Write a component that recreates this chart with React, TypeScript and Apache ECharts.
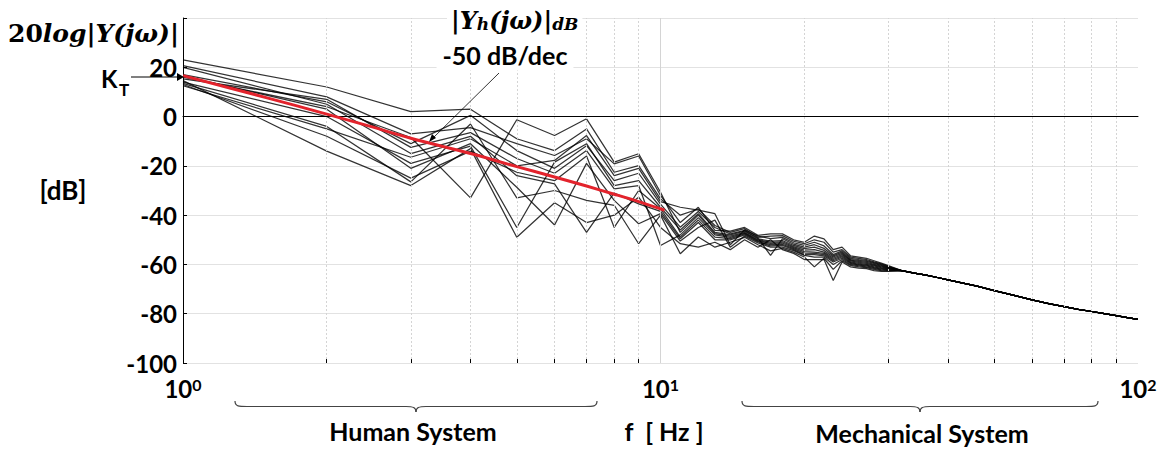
import React, { useEffect, useRef } from "react";
import * as echarts from "echarts";

// Frequencies (Hz) of the individual measured responses
const freqHz = [1, 2, 3, 4, 5, 6, 7, 8, 9, 10, 11, 12, 13, 14, 15, 16, 17, 18, 19, 20, 21, 22, 23, 24, 25, 26, 27, 28, 29, 30];

// |Y(jw)| in dB for each subject, one value per entry of freqHz
const subjectA = [23, 12, 2, 3, -9, -13.8, -5, -22.6, -19.9, -33.4, -40, -37.5, -44.2, -47, -45.5, -49, -48.5, -48.3, -50.6, -51.6, -50, -51, -55, -54, -57, -57.5, -58, -59, -59.8, -60.8];
const subjectB = [20.7, 8, -7, -4.5, -11, -15.8, -9, -19.2, -16, -32, -43, -36.8, -46.2, -46.5, -45, -48.2, -47.6, -47.6, -50, -51, -48.5, -49.6, -54, -53, -56.5, -57, -57.5, -58.5, -59.5, -60.5];
const subjectC = [12.5, -5, -16.5, -9, -20, -17.8, -7.7, -24, -21, -34.5, -36.8, -38, -39.4, -52, -46, -48.5, -49.5, -49, -51.2, -52.3, -51, -52.5, -56, -54.5, -57.5, -58, -58.4, -59.3, -60.1, -61];
const subjectD = [17, 6, -11, 0.5, -13.8, -21, -11.8, -26, -23, -35.5, -44.9, -38.5, -45, -47.6, -46.2, -49.3, -56.3, -49.6, -51.8, -53, -52, -53.5, -56.5, -55, -58, -58.4, -58.8, -59.6, -60.4, -61.2];
const subjectE = [14, 0, -19, -12, -45, -18.5, -11, -28, -26, -36.8, -46, -39.4, -47, -48, -46.5, -49.6, -50.5, -50.3, -52.3, -53.6, -53, -54.3, -57, -55.5, -58.3, -58.8, -59.2, -60, -60.7, -61.4];
const subjectF = [16, 4, -8.5, -33, -1.3, -7.7, -0.9, -18.5, -15.1, -30.7, -47, -40, -47.5, -48.5, -47, -50, -51, -50.8, -52.8, -54.2, -54, -55, -57.5, -56, -58.6, -59.2, -59.6, -60.3, -61, -61.6];
const subjectG = [15.3, 7, -12.5, -6.5, -17, -23, -13.8, -29.3, -28, -52.3, -48, -41, -48, -49, -47.3, -50.3, -51.5, -51.3, -53.2, -54.8, -55, -55.5, -58, -56.5, -59, -59.6, -60, -60.6, -61.3, -61.8];
const subjectH = [13, -8, -25, -14, -22.6, -26, -16, -45, -30, -37.4, -48.9, -42, -48.9, -49.5, -47.6, -50.6, -52, -51.8, -53.6, -55.4, -55.5, -56, -58.5, -57, -59.3, -60, -60.3, -61, -61.6, -62];
const subjectI = [20, 5, -15, -8, -24, -27.3, -47, -31, -35.4, -38.5, -49.6, -43, -50, -50, -48, -50.9, -52.5, -52.3, -54, -56, -56, -56.5, -59, -57.5, -59.6, -60.3, -60.6, -61.3, -61.9, -62.2];
const subjectJ = [16.5, 3, -21, -11, -28.7, -44, -19, -34, -43.5, -39.4, -50.5, -45, -42, -53, -48.5, -51.3, -53, -53, -54.4, -56.3, -57, -57, -60, -58, -60, -60.6, -61, -61.6, -62.2, -62.4];
const subjectK = [13.5, -4, -26.5, -3, -33, -30, -34, -36, -51.6, -40, -55.7, -48.9, -53, -51, -49, -52, -54.5, -53.5, -55, -57, -61, -57.5, -62, -58.5, -60.4, -61, -61.3, -62, -62.5, -62.6];
const subjectL = [14.6, -14, -28, -13, -49, -35, -43, -40, -32.7, -45, -51.6, -53, -51, -54, -50, -53, -50, -54, -55.5, -58, -58, -58, -66.5, -59, -61, -61.5, -61.7, -62.5, -62.8, -62.8];
const subjects = [subjectA, subjectB, subjectC, subjectD, subjectE, subjectF, subjectG, subjectH, subjectI, subjectJ, subjectK, subjectL];

// Common high-frequency (mechanical) part shared by all responses
const tailFreqHz = [32, 34, 36, 38, 40, 43, 46, 50, 55, 60, 65, 70, 75, 80, 85, 90, 95, 100];
const tailDb = [-62.5, -63.5, -64.3, -65.3, -66.3, -67.6, -68.8, -70.6, -72.6, -74.4, -75.9, -77.1, -78.2, -79.1, -80, -80.8, -81.6, -82.3];

// Fitted human model |Y_h(jw)|_dB (red)
const fitFreqHz = [1, 1.5, 2, 2.5, 3, 4, 5, 6, 7, 8, 9, 10.2];
const fitDb = [16.6, 7.6, 1, -4.3, -8.8, -15, -20.3, -24.5, -28.2, -31.5, -34.5, -38];

// Grid / tick frequencies
const minorFreqHz = [2, 3, 4, 5, 6, 7, 8, 9, 20, 30, 40, 50, 60, 70, 80, 90];
const decadeFreqHz = [10];

const FONT = "Lato, 'Open Sans', sans-serif";
const SERIF = "'DejaVu Serif', serif";

function brace(x1: number, x2: number, y0: number, h: number) {
  const xm = (x1 + x2) / 2;
  const ym = y0 + h / 2;
  const st = { stroke: "#444", lineWidth: 1.2, fill: "none" };
  return {
    type: "group",
    children: [
      { type: "bezierCurve", shape: { x1: x1, y1: y0, cpx1: x1, cpy1: ym, cpx2: x1 + 4, cpy2: ym, x2: x1 + 12, y2: ym }, style: st },
      { type: "line", shape: { x1: x1 + 12, y1: ym, x2: xm - 10, y2: ym }, style: st },
      { type: "bezierCurve", shape: { x1: xm - 10, y1: ym, cpx1: xm - 3, cpy1: ym, cpx2: xm, cpy2: ym + 1, x2: xm, y2: y0 + h }, style: st },
      { type: "bezierCurve", shape: { x1: xm + 10, y1: ym, cpx1: xm + 3, cpy1: ym, cpx2: xm, cpy2: ym + 1, x2: xm, y2: y0 + h }, style: st },
      { type: "line", shape: { x1: xm + 10, y1: ym, x2: x2 - 12, y2: ym }, style: st },
      { type: "bezierCurve", shape: { x1: x2, y1: y0, cpx1: x2, cpy1: ym, cpx2: x2 - 4, cpy2: ym, x2: x2 - 12, y2: ym }, style: st },
    ],
  };
}

export default function App() {
  const ref = useRef<HTMLDivElement>(null);
  useEffect(() => {
    document.body.style.margin = "0";
    const chart = echarts.init(ref.current!, null, { renderer: "svg" });

    const curveSeries = subjects.map((vals, k) => ({
      type: "line",
      name: "s" + k,
      data: [...freqHz.map((f, i) => [f, vals[i]]), ...tailFreqHz.map((f, i) => [f, tailDb[i]])],
      symbol: "none",
      silent: true,
      lineStyle: { color: "rgba(0,0,0,0.8)", width: 1.25 },
      z: 3,
    }));

    const gridSeries = {
      type: "line",
      name: "grid",
      data: [],
      silent: true,
      z: 1,
      markLine: {
        silent: true,
        symbol: "none",
        label: { show: false },
        animation: false,
        data: [
          ...minorFreqHz.map((f) => ({ xAxis: f, lineStyle: { color: "#d4d4d4", width: 1, type: [2, 2] } })),
          ...decadeFreqHz.map((f) => ({ xAxis: f, lineStyle: { color: "#d4d4d4", width: 1, type: "solid" } })),
          ...minorFreqHz.map((f) => [
            { coord: [f, -100], lineStyle: { color: "#000", width: 1, type: "solid" } },
            { coord: [f, -98.4] },
          ]),
          { yAxis: 0, lineStyle: { color: "#000", width: 1, type: "solid" } },
        ],
      },
    };

    const fitSeries = {
      type: "line",
      name: "fit",
      data: fitFreqHz.map((f, i) => [f, fitDb[i]]),
      symbol: "none",
      smooth: 0.3,
      silent: true,
      lineStyle: { color: "#e3232c", width: 3 },
      z: 5,
    };

    const option: any = {
      animation: false,
      grid: { left: 183, right: 26, top: 18, bottom: 86, containLabel: false },
      xAxis: {
        type: "log",
        logBase: 10,
        min: 1,
        max: 100,
        axisLine: { show: true, lineStyle: { color: "#000", width: 1 } },
        axisTick: { show: false },
        splitLine: { show: false },
        axisLabel: {
          margin: 13,
          formatter: (v: number) => `{b|10}{s|${Math.round(Math.log10(v))}}`,
          rich: {
            b: { fontFamily: FONT, fontWeight: "bold", fontSize: 24, color: "#000", verticalAlign: "bottom" },
            s: { fontFamily: FONT, fontWeight: "bold", fontSize: 16, color: "#000", verticalAlign: "top" },
          },
        },
      },
      yAxis: {
        type: "value",
        min: -100,
        max: 40,
        interval: 20,
        axisLine: { show: true, lineStyle: { color: "#000", width: 1 } },
        axisTick: { show: true, inside: true, length: 4, lineStyle: { color: "#000" } },
        splitLine: { show: true, lineStyle: { color: "#e2e2e2", width: 1 } },
        axisLabel: {
          formatter: (v: number) => (v === 40 ? "" : String(v)),
          fontFamily: FONT,
          fontWeight: "bold",
          fontSize: 24,
          color: "#000",
          margin: 6,
        },
      },
      series: [gridSeries, ...curveSeries, fitSeries],
      graphic: [
        {
          type: "text",
          z: 100,
          style: {
            x: 8,
            y: 33,
            verticalAlign: "middle",
            text: "{a|20}{b|log|Y(jω)|}",
            rich: {
              a: { fontFamily: SERIF, fontWeight: "bold", fontSize: 25, fill: "#000" },
              b: { fontFamily: SERIF, fontWeight: "bold", fontStyle: "italic", fontSize: 25, fill: "#000" },
            },
          },
        },
        { type: "text", z: 100, style: { x: 101, y: 78, verticalAlign: "middle", text: "K", fontFamily: FONT, fontWeight: "bold", fontSize: 24, fill: "#000" } },
        { type: "text", z: 100, style: { x: 119, y: 89, verticalAlign: "middle", text: "T", fontFamily: FONT, fontWeight: "bold", fontSize: 17, fill: "#000" } },
        { type: "line", z: 100, shape: { x1: 131, y1: 77, x2: 178, y2: 77 }, style: { stroke: "#000", lineWidth: 1 } },
        { type: "polygon", z: 100, shape: { points: [[177, 73], [184, 77], [177, 81]] }, style: { fill: "#000" } },
        { type: "text", z: 100, style: { x: 63, y: 190, align: "center", verticalAlign: "middle", text: "[dB]", fontFamily: FONT, fontWeight: "bold", fontSize: 26, fill: "#000" } },
        {
          type: "text",
          z: 100,
          style: {
            x: 447,
            y: 24,
            verticalAlign: "middle",
            backgroundColor: "#fff",
            padding: [0, 4, 0, 4],
            text: "{m||Y}{s|h}{m|(jω)|}{s|dB}",
            rich: {
              m: { fontFamily: SERIF, fontWeight: "bold", fontStyle: "italic", fontSize: 24, fill: "#000", padding: [0, 0, 8, 0] },
              s: { fontFamily: SERIF, fontWeight: "bold", fontStyle: "italic", fontSize: 17, fill: "#000" },
            },
          },
        },
        {
          type: "text",
          z: 100,
          style: { x: 505, y: 55, align: "center", verticalAlign: "middle", text: "-50 dB/dec", fontFamily: FONT, fontWeight: "bold", fontSize: 25, fill: "#000", backgroundColor: "#fff", padding: [3, 6, 3, 6] },
        },
        { type: "line", z: 100, shape: { x1: 499, y1: 73, x2: 432, y2: 139 }, style: { stroke: "#000", lineWidth: 0.8 } },
        { type: "polygon", z: 100, shape: { points: [[429, 142], [432, 134], [436, 138]] }, style: { fill: "#000" } },
        brace(235, 597, 401, 11),
        brace(742, 1098, 401, 11),
        { type: "text", z: 100, style: { x: 413, y: 431, align: "center", verticalAlign: "middle", text: "Human System", fontFamily: FONT, fontWeight: "bold", fontSize: 25, fill: "#000" } },
        { type: "text", z: 100, style: { x: 664, y: 431, align: "center", verticalAlign: "middle", text: "f  [ Hz ]", fontFamily: FONT, fontWeight: "bold", fontSize: 25, fill: "#000" } },
        { type: "text", z: 100, style: { x: 922, y: 433, align: "center", verticalAlign: "middle", text: "Mechanical System", fontFamily: FONT, fontWeight: "bold", fontSize: 25, fill: "#000" } },
      ],
    };
    chart.setOption(option);
    return () => chart.dispose();
  }, []);
  return <div ref={ref} style={{ position: "absolute", left: 0, top: 0, width: 1164, height: 449 }} />;
}
